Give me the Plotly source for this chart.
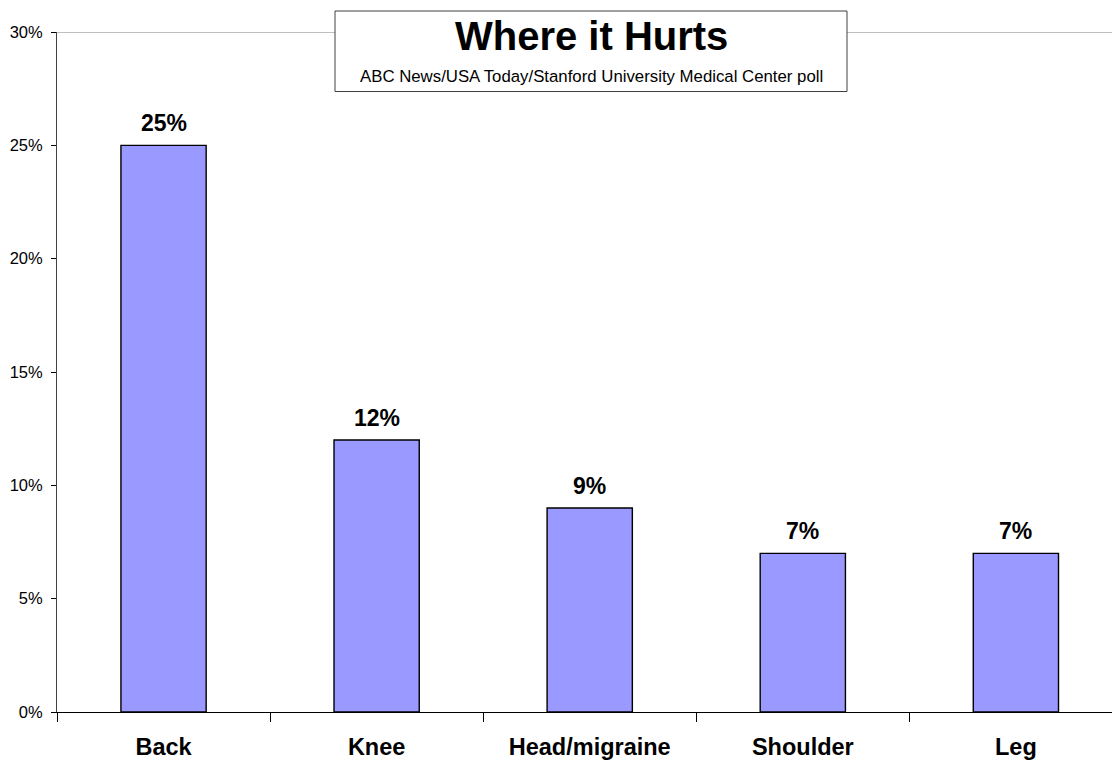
import plotly.graph_objects as go

categories = ["Back", "Knee", "Head/migraine", "Shoulder", "Leg"]
values = [0.25, 0.12, 0.09, 0.07, 0.07]
value_labels = ["25%", "12%", "9%", "7%", "7%"]
y_ticks = [0, 0.05, 0.10, 0.15, 0.20, 0.25, 0.30]
y_tick_labels = ["0%", "5%", "10%", "15%", "20%", "25%", "30%"]
title_text = "Where it Hurts"
subtitle_text = "ABC News/USA Today/Stanford University Medical Center poll"

FONT = "Liberation Sans, Arial, Helvetica, sans-serif"

fig = go.Figure()
fig.add_trace(go.Bar(
    x=categories,
    y=values,
    width=0.4,
    marker=dict(color="#9999FF", line=dict(color="#000000", width=1.4)),
    hoverinfo="skip",
))

for c, v, t in zip(categories, values, value_labels):
    fig.add_annotation(
        x=c, y=v, xref="x", yref="y", text=t, showarrow=False,
        yanchor="bottom", yshift=7,
        font=dict(family=FONT, size=23, color="#000000", weight="bold"),
    )

W, H = 1112, 760
ml, mr, mt, mb = 57, 0, 32, 48
pw, ph = W - ml - mr, H - mt - mb

def px_x(p):
    return (p - ml) / pw

def px_y(p):
    return (H - mb - p) / ph

# top border line of plot area
fig.add_shape(type="line", xref="paper", yref="y", x0=0, x1=1, y0=0.30, y1=0.30,
              line=dict(color="#808080", width=1), layer="above")
# title box
fig.add_shape(type="rect", xref="paper", yref="paper",
              x0=px_x(335), x1=px_x(847), y0=px_y(91.5), y1=px_y(11),
              fillcolor="#FFFFFF", line=dict(color="#404040", width=1), layer="above")
fig.add_annotation(xref="paper", yref="paper", x=px_x(591), y=px_y(36),
                   text="<b>%s</b>" % title_text, showarrow=False,
                   xanchor="center", yanchor="middle",
                   font=dict(family=FONT, size=40, color="#000000"))
fig.add_annotation(xref="paper", yref="paper", x=px_x(591), y=px_y(76),
                   text=subtitle_text, showarrow=False,
                   xanchor="center", yanchor="middle",
                   font=dict(family=FONT, size=16.8, color="#000000"))

fig.update_layout(
    width=W, height=H,
    margin=dict(l=ml, r=mr, t=mt, b=mb),
    paper_bgcolor="#FFFFFF", plot_bgcolor="#FFFFFF",
    showlegend=False,
    xaxis=dict(
        type="category",
        range=[-0.5, 4.451],
        tickson="boundaries",
        ticks="outside", ticklen=9, tickcolor="#000000", tickwidth=1,
        showline=True, linecolor="#000000", linewidth=1,
        showgrid=False, zeroline=False,
        tickfont=dict(family=FONT, size=23.5, color="#000000", weight="bold"),
        ticklabelstandoff=14,
    ),
    yaxis=dict(
        range=[0, 0.30],
        tickvals=y_ticks, ticktext=y_tick_labels,
        ticks="outside", ticklen=5, tickcolor="#000000", tickwidth=1,
        showline=True, linecolor="#404040", linewidth=1,
        showgrid=False, zeroline=False,
        tickfont=dict(family=FONT, size=16.5, color="#000000"),
        ticklabelstandoff=5,
    ),
)

fig.write_html("out.html", config={"displayModeBar": False},
               post_script="document.body.style.margin='0';")
